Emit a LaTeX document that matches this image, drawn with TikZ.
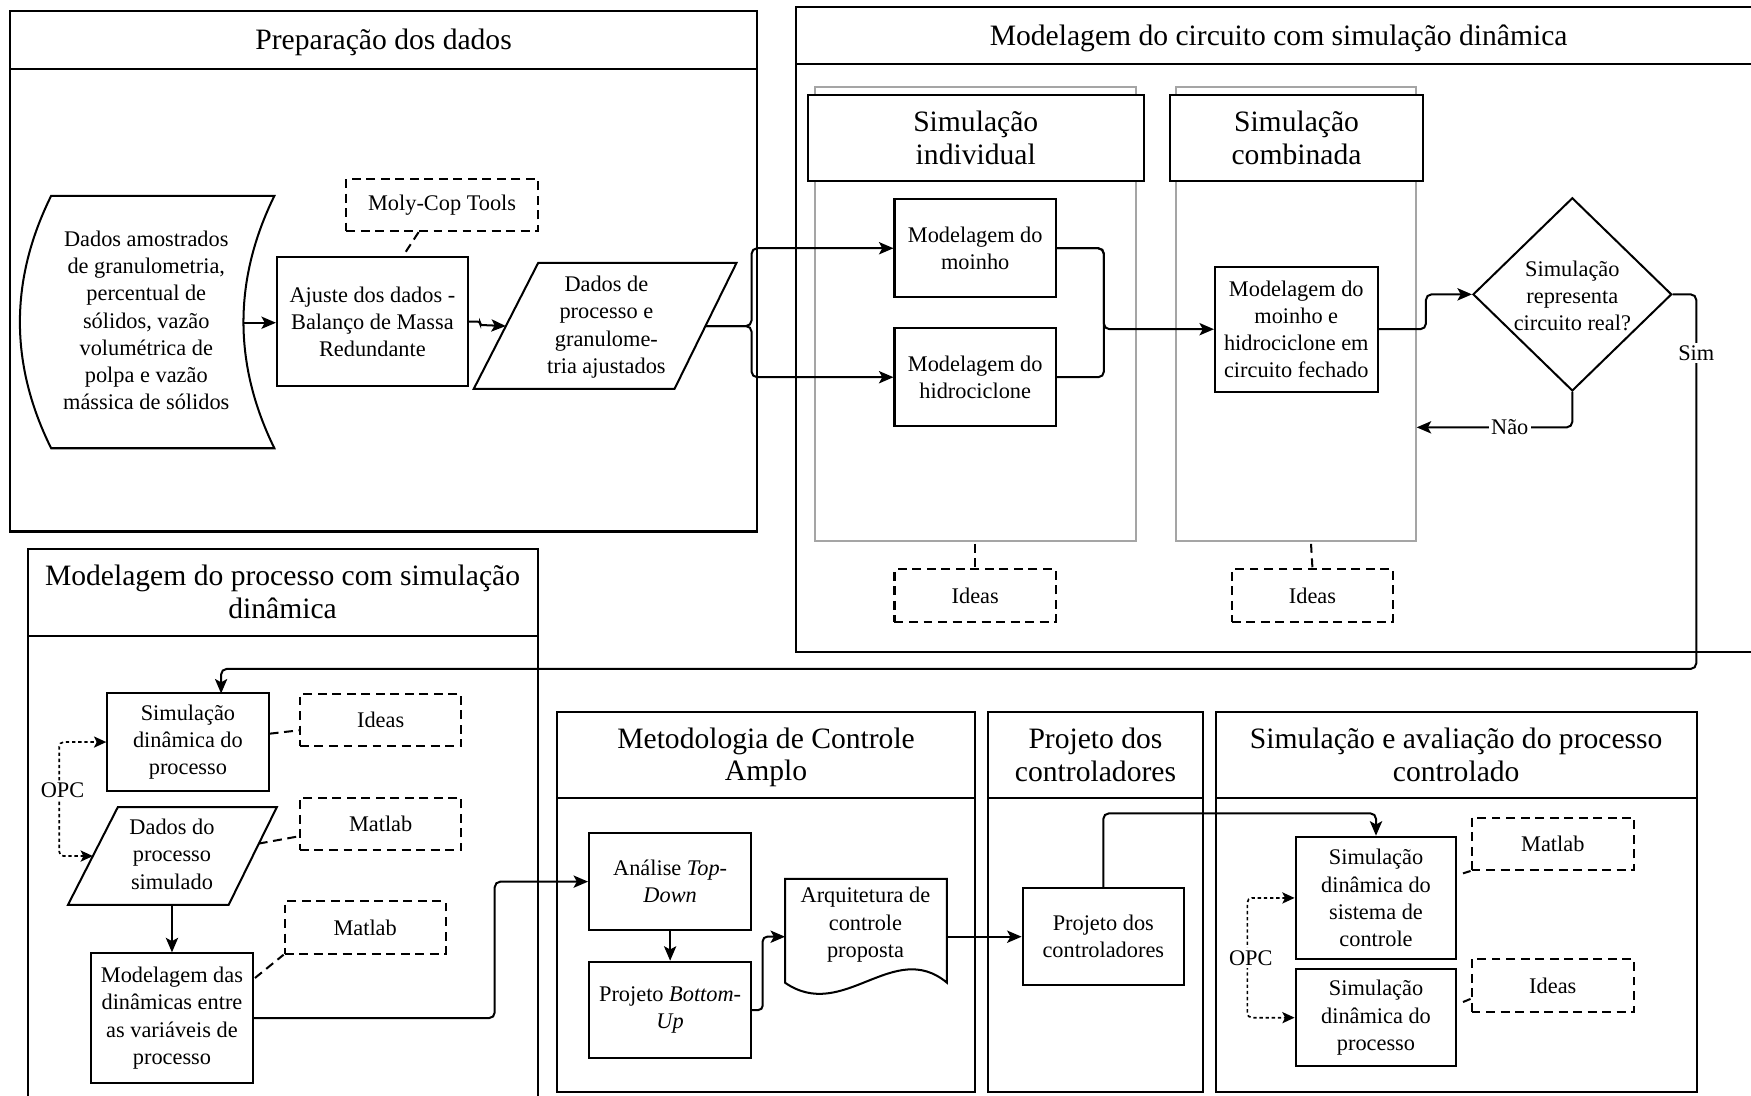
\documentclass[tikz,border=0pt]{standalone}
\usepackage{fontspec}
\setmainfont{Liberation Serif}
\usetikzlibrary{arrows.meta,calc,shapes.geometric}
\definecolor{lanegray}{RGB}{165,165,165}
\newcommand\bodytxt{\fontsize{20}{24.3}\selectfont}
\newcommand\headtxt{\fontsize{26.5}{29}\selectfont}
\tikzset{
  frame/.style={line width=2pt},
  proc/.style={draw, line width=1.8pt, fill=white, align=center, inner sep=0pt, font=\bodytxt},
  tool/.style={draw, line width=1.8pt, dash pattern=on 8pt off 5pt, align=center, inner sep=0pt, font=\bodytxt,
    minimum width=144.6, minimum height=46.7},
  txt/.style={align=center, inner sep=0pt, font=\bodytxt},
  head/.style={align=center, inner sep=0pt, font=\headtxt},
  shapeline/.style={line width=1.8pt, line join=miter},
  flow/.style={line width=1.8pt, rounded corners=5pt, -{Stealth[length=13pt,width=11pt,inset=3pt]}},
  link/.style={line width=1.8pt, rounded corners=5pt},
  toolink/.style={line width=1.8pt, dash pattern=on 8pt off 5pt},
  opc/.style={line width=1.5pt, dash pattern=on 3pt off 2.5pt, rounded corners=4pt,
    {Stealth[length=11pt,width=10pt,inset=2.5pt]}-{Stealth[length=11pt,width=10pt,inset=2.5pt]}},
  lane/.style={draw=lanegray, line width=2pt},
  lbl/.style={fill=white, inner sep=2pt, font=\bodytxt}
}
\begin{document}
\begin{tikzpicture}[x=1pt,y=-1pt]
\clip (0,0) rectangle (1568,981);
\fill[white] (0,0) rectangle (1568,981);

% ---------- Preparação dos dados ----------
\draw[frame] (9,10) rectangle (678,476);
\draw[frame] (9,62) -- (678,62);
\node[head] (tPrep) at (343.5,38) {Preparação dos dados};

\draw[shapeline] (45.8,175.4) -- (245.7,175.4)
  .. controls (208.8,250.7) and (208.8,326.1) .. (245.7,401.4)
  -- (45.8,401.4)
  .. controls (8.5,326.1) and (8.5,250.7) .. (45.8,175.4) -- cycle;
\node[txt] (samp) at (131,287) {Dados amostrados\\de granulometria,\\percentual de\\sólidos, vazão\\volumétrica de\\polpa e vazão\\mássica de sólidos};
\coordinate (sampR) at (218,289);

\node[tool, minimum width=171.4, minimum height=46.9] (moly) at (395.9,183.5) {Moly-Cop Tools};
\node[proc, minimum width=171, minimum height=116] (ajuste) at (333.5,288) {Ajuste dos dados -\\Balanço de Massa\\Redundante};

\draw[shapeline] (482,235.3) -- (659.6,235.3) -- (604,348.3) -- (424.2,348.3) -- cycle;
\node[txt] (paraA) at (543,293) {Dados de\\processo e\\granulome-\\tria ajustados};
\coordinate (paraAin) at (453,292);
\coordinate (paraAout) at (631.7,292);
\coordinate (splitA) at (673,292);

\draw[flow] (sampR) -- (ajuste.west |- sampR);
\draw[flow, rounded corners=2pt] (ajuste.east) -- ++(10,0) -- ++(0,3) -- (paraAin);
\draw[toolink] ($(moly.south)+(-21,0)$) -- ($(ajuste.north)+(27.5,0)$);

% ---------- Modelagem do circuito ----------
\draw[frame] (1580,6) -- (712.5,6) -- (712.5,584) -- (1580,584);
\draw[frame] (712.5,57) -- (1580,57);
\node[head] (tCirc) at (1145,34) {Modelagem do circuito com simulação dinâmica};

\draw[lane] (729.5,77.7) rectangle (1017.3,484.6);
\draw[lane] (1053.4,77.7) rectangle (1268,484.6);
\node[proc, font=\headtxt, minimum width=300.5, minimum height=77.3] (hInd) at (873.75,123.4) {Simulação\\individual};
\node[proc, font=\headtxt, minimum width=226, minimum height=77.3] (hComb) at (1161,123.4) {Simulação\\combinada};

\node[proc, minimum width=144.6, minimum height=87.4] (moinho) at (873.3,222.3) {Modelagem do\\moinho};
\node[proc, minimum width=144.6, minimum height=87.5] (hidro) at (873.3,337.8) {Modelagem do\\hidrociclone};
\node[proc, minimum width=145.6, minimum height=112] (circ) at (1160.8,294.8) {Modelagem do\\moinho e\\hidrociclone em\\circuito fechado};
\node[draw, diamond, line width=1.8pt, minimum width=178, minimum height=173, inner sep=0pt] (dec) at (1408,263.6) {};
\node[txt] (decT) at (1408,265) {Simulação\\representa\\circuito real?};

\node[tool] (ideas1) at (873.3,533.3) {Ideas};
\node[tool] (ideas2) at (1175.3,533.3) {Ideas};
\coordinate (lane1b) at (873.3,487);
\coordinate (lane2b) at (1174,487);
\draw[toolink] (lane1b) -- (ideas1.north);
\draw[toolink] (lane2b) -- (ideas2.north);

\draw[flow] (paraAout) -- (splitA) |- (moinho.west);
\draw[flow] (paraAout) -- (splitA) |- (hidro.west);
\coordinate (mergeB) at (988.5,294.8);
\draw[link] (moinho.east) -| (mergeB);
\draw[link] (hidro.east) -| (mergeB);
\draw[flow] (moinho.east) -| (mergeB) -- (circ.west);
\draw[flow] (circ.east) -- ($(circ.east)+(42.4,0)$) |- (dec.west);
\coordinate (naoEnd) at (1268.6,382.7);
\draw[flow] (dec.south) |- (naoEnd);
\node[lbl] (nao) at (1352,382.7) {Não};

% ---------- Modelagem do processo ----------
\draw[frame] (25,995) -- (25,491.5) -- (481.5,491.5) -- (481.5,995);
\draw[frame] (25,569.5) -- (481.5,569.5);
\node[head] (tProc) at (253,530) {Modelagem do processo com simulação\\dinâmica};

\node[proc, minimum width=144.5, minimum height=87] (simC) at (168.3,664.5) {Simulação\\dinâmica do\\processo};
\node[tool] (ideasC) at (340.9,645) {Ideas};
\draw[shapeline] (105.5,722.8) -- (247.9,722.8) -- (204.7,810.4) -- (60.8,810.4) -- cycle;
\node[txt] (paraC) at (154,765) {Dados do\\processo\\simulado};
\coordinate (paraCin) at (83.2,766.6);
\coordinate (paraCbot) at (154,810.4);
\coordinate (paraCr) at (231.7,755.4);
\node[tool] (matC1) at (340.9,737.9) {Matlab};
\node[proc, minimum width=144.8, minimum height=116] (modC) at (154,911.7) {Modelagem das\\dinâmicas entre\\as variáveis de\\processo};
\node[tool, minimum width=144.2, minimum height=46.8] (matC2) at (327,830.6) {Matlab};

\draw[flow] (paraCbot) -- (modC.north);
\draw[toolink] ($(simC.east)+(0,-7.5)$) -- ($(ideasC.west)+(0,9)$);
\draw[toolink] (paraCr) -- ($(matC1.west)+(0,11)$);
\draw[toolink] ($(modC.north east)+(1,23)$) -- (matC2.south west);

\coordinate (opcC) at (53,766.6);
\draw[opc] (paraCin) -- (opcC) |- (simC.west);
\node[lbl] (opcCl) at (56,708) {OPC};

% loop back from the decision
\coordinate (simCin) at (198,621);
\draw[flow] (dec.east) -- (1519,263.6) -- (1519,599) -- (198,599) -- (simCin);
\node[lbl] (sim) at (1519,316) {Sim};

% ---------- Metodologia de Controle Amplo ----------
\draw[frame] (499,637.3) rectangle (873,978);
\draw[frame] (499,714.9) -- (873,714.9);
\node[head] (tMet) at (686,678) {Metodologia de Controle\\Amplo};

\node[proc, minimum width=145.2, minimum height=86.6] (td) at (600.1,789.5) {Análise \textit{Top-}\\\textit{Down}};
\node[proc, minimum width=145.2, minimum height=86.6] (bu) at (600.1,904.5) {Projeto \textit{Bottom-}\\\textit{Up}};
\draw[shapeline] (703,880) -- (703,787) -- (848,787) -- (848,880)
  .. controls (800,840) and (755,916) .. (703,880) -- cycle;
\node[txt] (doc) at (775,828) {Arquitetura de\\controle\\proposta};
\coordinate (docin) at (703,838.8);
\coordinate (docout) at (848,838.8);

\draw[flow] (modC.east) -- (443,911.7) |- (td.west);
\draw[flow] (td.south) -- (bu.north);
\draw[flow, rounded corners=4pt] (bu.east) -- (683,904.5) |- (docin);

% ---------- Projeto dos controladores ----------
\draw[frame] (884.5,637.3) rectangle (1077,978);
\draw[frame] (884.5,714.9) -- (1077,714.9);
\node[head] (tProj) at (981,676) {Projeto dos\\controladores};
\node[proc, minimum width=144.5, minimum height=86.5] (proj) at (988,838.8) {Projeto dos\\controladores};
\draw[flow] (docout) -- (proj.west);

% ---------- Simulação e avaliação ----------
\draw[frame] (1089,637.3) rectangle (1519.7,978);
\draw[frame] (1089,714.9) -- (1519.7,714.9);
\node[head] (tSim) at (1304,676) {Simulação e avaliação do processo\\controlado};

\node[proc, minimum width=144, minimum height=109.7] (sys) at (1232.2,804.1) {Simulação\\dinâmica do\\sistema de\\controle};
\node[proc, minimum width=144, minimum height=86.6] (procF) at (1232.2,911.3) {Simulação\\dinâmica do\\processo};
\node[tool, minimum width=145.5, minimum height=46.9] (matF) at (1390.5,755.6) {Matlab};
\node[tool, minimum width=145.5, minimum height=46.9] (ideasF) at (1390.5,882.5) {Ideas};

\draw[flow] (proj.north) |- ($(sys.north)+(0,-20)$) -- (sys.north);
\draw[toolink] ($(sys.east)+(5,-22)$) -- (matF.south west);
\draw[toolink] ($(procF.east)+(5,-14)$) -- ($(ideasF.west)+(0,12)$);

\coordinate (opcF) at (1117,858);
\draw[opc] (sys.west) -| (opcF) |- (procF.west);
\node[lbl] (opcFl) at (1120,858) {OPC};
\end{tikzpicture}
\end{document}
